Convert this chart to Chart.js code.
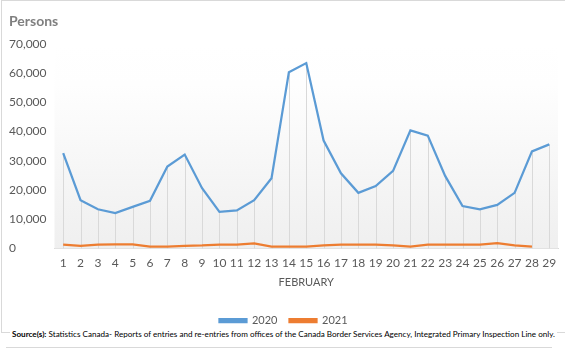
<!DOCTYPE html>
<html>
<head>
<meta charset="utf-8">
<script src="https://cdn.jsdelivr.net/npm/chart.js@4/dist/chart.umd.min.js"></script>
<style>
  html, body { margin: 0; padding: 0; background: #fff; }
  #wrap { position: relative; width: 565px; height: 350px; overflow: hidden; }
  #frame { position: absolute; left: 1px; top: 0; width: 570px; height: 333px;
           border-top: 1px solid #d9d9d9; border-left: 1px solid #d9d9d9; border-bottom: 1px solid #d9d9d9; box-sizing: border-box; }
  #c { position: absolute; left: 0; top: 0; }
  #src { position: absolute; left: 10px; top: 328px; padding: 0 2px; background: #fff;
         font-family: Lato, "Open Sans", sans-serif; font-size: 8.1px; color: #000; white-space: nowrap; line-height: 12px; }
  #rule { position: absolute; left: 6px; top: 347px; width: 546px; height: 0; border-top: 1px solid #d9d9d9; }
</style>
</head>
<body>
<div id="wrap">
  <div id="frame"></div>
  <canvas id="c" width="565" height="350"></canvas>
  <div id="src"><b>Source(s):</b> Statistics Canada- Reports of entries and re-entries from offices of the Canada Border Services Agency, Integrated Primary Inspection Line only.</div>
  <div id="rule"></div>
</div>
<script>
const days = ['1','2','3','4','5','6','7','8','9','10','11','12','13','14','15','16','17','18','19','20','21','22','23','24','25','26','27','28','29'];
const persons2020 = [32600,16500,13400,12100,14200,16300,28000,32100,20600,12500,13000,16500,24000,60300,63400,36900,25700,19000,21300,26500,40400,38600,24800,14500,13400,14900,19000,33200,35600];
const persons2021 = [1300,900,1300,1400,1400,600,600,900,1000,1300,1300,1700,600,600,600,1000,1300,1300,1300,1000,600,1300,1300,1300,1300,1800,1000,600,null];
const seriesNames = ['2020','2021'];
const seriesColors = ['#5b9bd5','#ed7d31'];
const yMax = 70000, yStep = 10000;

const bgPlugin = {
  id: 'bgGrad',
  beforeDatasetsDraw(chart) {
    const {ctx, chartArea: a} = chart;
    const g = ctx.createLinearGradient(0, a.top, 0, a.bottom);
    g.addColorStop(0, '#ffffff');
    g.addColorStop(0.2, '#fefefe');
    g.addColorStop(1, '#efefef');
    ctx.save();
    ctx.fillStyle = g;
    ctx.fillRect(a.left, a.top, a.right - a.left, a.bottom - a.top);
    const xs = chart.scales.x, ys = chart.scales.y;
    ctx.strokeStyle = '#d9d9d9';
    ctx.lineWidth = 1;
    for (let i = 0; i < days.length; i++) {
      const vals = [persons2020[i], persons2021[i]].filter(v => v != null);
      if (!vals.length) continue;
      const top = ys.getPixelForValue(Math.max(...vals));
      const x = Math.round(xs.getPixelForValue(i)) + 0.5;
      ctx.beginPath();
      ctx.moveTo(x, top);
      ctx.lineTo(x, ys.getPixelForValue(0));
      ctx.stroke();
    }
    ctx.restore();
  }
};

new Chart(document.getElementById('c'), {
  type: 'line',
  data: {
    labels: days,
    datasets: [
      { label: seriesNames[0], data: persons2020, borderColor: seriesColors[0], backgroundColor: seriesColors[0], borderWidth: 2.25, pointRadius: 0, tension: 0 },
      { label: seriesNames[1], data: persons2021, borderColor: seriesColors[1], backgroundColor: seriesColors[1], borderWidth: 2.25, pointRadius: 0, tension: 0 }
    ]
  },
  options: {
    responsive: false,
    animation: false,
    devicePixelRatio: 1,
    layout: { padding: { left: 9, right: 7, top: 0, bottom: 14 } },
    plugins: {
      title: { display: true, text: 'Persons', align: 'start', color: '#7f7f7f',
               font: { family: 'Lato', size: 14, weight: 'bold' }, padding: { top: 13, bottom: 14 } },
      legend: { position: 'bottom', align: 'center',
        labels: { boxWidth: 27, boxHeight: 3, color: '#595959', padding: 12,
                  font: { family: 'Lato', size: 11 } } },
      tooltip: { enabled: false }
    },
    scales: {
      x: {
        offset: true,
        grid: { display: false, drawTicks: false },
        border: { display: true, color: '#d9d9d9', width: 1 },
        ticks: { color: '#595959', font: { family: 'Lato', size: 12 }, padding: 8, maxRotation: 0, autoSkip: false },
        title: { display: true, text: 'FEBRUARY', color: '#595959', font: { family: 'Lato', size: 11 }, padding: { top: -3, bottom: 14 } }
      },
      y: {
        min: 0, max: yMax,
        grid: { display: false, drawTicks: false },
        border: { display: false },
        ticks: { stepSize: yStep, color: '#595959', font: { family: 'Lato', size: 12 }, crossAlign: 'far',
                 callback: v => v.toLocaleString('en-US') },
        afterFit(s) { s.width = 45.5; }
      }
    }
  },
  plugins: [bgPlugin]
});
</script>
</body>
</html>
